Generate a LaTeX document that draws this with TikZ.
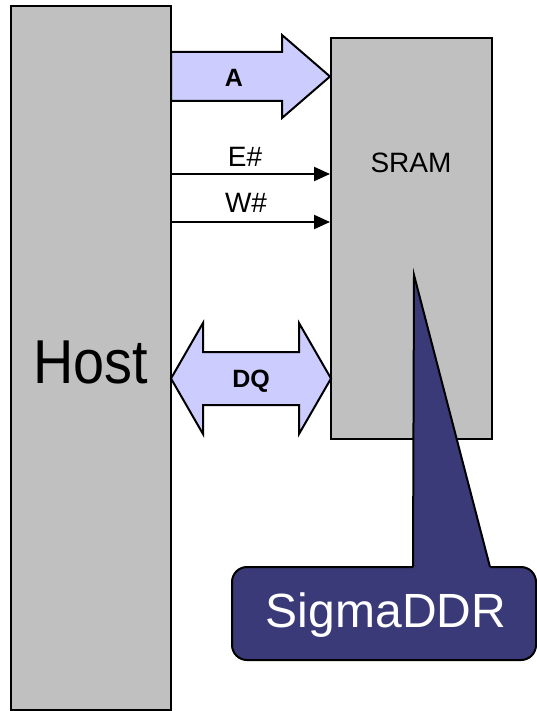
\documentclass[tikz,border=0pt]{standalone}
\usepackage{fontspec}
\setmainfont{Liberation Sans}
\usetikzlibrary{arrows.meta}
\definecolor{boxgray}{RGB}{192,192,192}
\definecolor{buslilac}{RGB}{204,204,255}
\definecolor{calloutnavy}{RGB}{58,58,120}
\begin{document}
\begin{tikzpicture}[x=1pt,y=-1pt,
  block/.style={draw=black, line width=2pt, fill=boxgray, inner sep=0pt},
  bus/.style={draw=black, line width=2pt, fill=buslilac, line join=miter},
  sig/.style={line width=2pt, -{Triangle[length=16pt,width=14pt]}},
  lbl/.style={inner sep=0pt, anchor=base, font=\fontsize{28}{28}\selectfont},
  buslbl/.style={inner sep=0pt, anchor=base, font=\fontsize{25}{25}\selectfont\bfseries}]
\useasboundingbox (0,0) rectangle (537,711);
% blocks
\node[block, minimum width=160pt, minimum height=704pt] (host) at (91,358) {};
\node[inner sep=0pt, anchor=base, font=\fontsize{62}{62}\selectfont\addfontfeature{FakeStretch=0.9}] (hostlbl) at (90.5,383) {Host};
\node[block, minimum width=161pt, minimum height=401pt] (sram) at (411.5,238.5) {};
\node[lbl] (sramlbl) at (411,173) {SRAM};
% address bus
\draw[bus] (171,52) -- (282,52) -- (282,35) -- (330,76.5) -- (282,118) -- (282,101) -- (171,101) -- cycle;
\node[buslbl] (alabel) at (234,87) {A};
% control signals
\coordinate (e0) at (171,174);
\coordinate (w0) at (171,222);
\draw[sig] (e0) -- (sram.west |- e0);
\draw[sig] (w0) -- (sram.west |- w0);
\node[lbl] (elabel) at (245,167) {E\#};
\node[lbl] (wlabel) at (246,212) {W\#};
% data bus
\draw[bus] (171,378.5) -- (203,323) -- (203,352) -- (299,352) -- (299,323) -- (331,378.5) -- (299,434) -- (299,405) -- (203,405) -- (203,434) -- cycle;
\node[buslbl] (dqlabel) at (251,387) {DQ};
% callout
\node[draw=black, line width=2pt, fill=calloutnavy, rounded corners=15pt, minimum width=304pt, minimum height=93pt, inner sep=0pt] (callout) at (384,613.5) {};
\fill[calloutnavy] (413,570) -- (413,567) -- (414,275) -- (490,567) -- (490.8,570) -- cycle;
\draw[line width=2pt, line join=miter] (413,567) -- (414,275) -- (490,567);
\node[inner sep=0pt, anchor=base, text=white, font=\fontsize{48}{48}\selectfont] (calloutlbl) at (386,627) {SigmaDDR};
\end{tikzpicture}
\end{document}
